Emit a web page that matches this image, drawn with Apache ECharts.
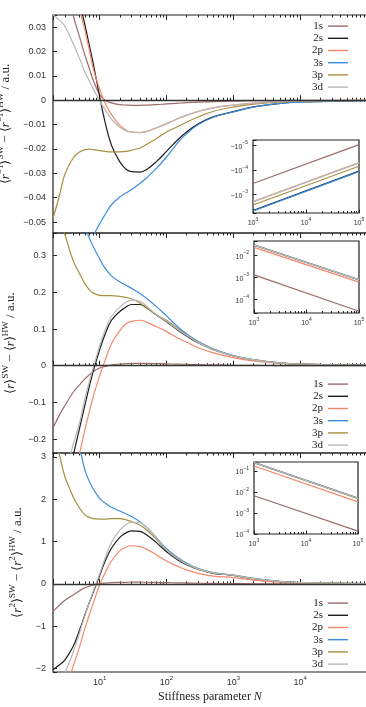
<!DOCTYPE html>
<html>
<head>
<meta charset="utf-8">
<script src="https://cdn.jsdelivr.net/npm/echarts@6/dist/echarts.min.js"></script>
<style>
  html, body { margin: 0; padding: 0; background: #fff; }
  #chart { width: 366px; height: 707px; }
</style>
</head>
<body>
<div id="chart"></div>
<script>
// stiffness parameter N (shared by all main panels)
const N = [2, 2.5, 3, 4, 5, 6, 7, 8, 10, 12, 15, 20, 25, 30, 40, 50, 70, 100, 150, 200, 300, 500, 1000, 2000, 5000, 10000, 100000];
const names = ['1s', '2s', '2p', '3s', '3p', '3d'];
const colors = ['#9c6b6b', '#1e1e1e', '#f5896b', '#3b8de0', '#a99040', '#b8b8b8'];

// panel 1: <r^-1>SW - <r^-1>HW
const r1_1s = [null, null, 0.05, 0.035, 0.026, 0.0185, 0.013, 0.0082, 0.0023, 0.0, -0.0011, -0.0018, -0.002, -0.0021, -0.0021, -0.002, -0.0018, -0.0015, -0.0012, -0.001, -0.0008, -0.0006, -0.00036, -0.0002, -0.0001, -0.00006, -0.00001];
const r1_2s = [null, null, null, null, 0.04, 0.031, 0.0225, 0.0151, 0.0014, -0.0089, -0.0185, -0.0253, -0.0284, -0.0293, -0.0295, -0.0285, -0.0253, -0.021, -0.016, -0.013, -0.0097, -0.0068, -0.0047, -0.0027, -0.0013, -0.00072, -0.00011];
const r1_2p = [null, null, null, 0.06, 0.038, 0.0288, 0.0205, 0.013, 0.0045, -0.001, -0.0059, -0.0103, -0.0123, -0.0131, -0.0133, -0.0129, -0.0114, -0.0097, -0.0075, -0.0062, -0.0046, -0.0031, -0.002, -0.00115, -0.00055, -0.00032, -0.00005];
const r1_3s = [null, null, null, null, null, null, -0.064, -0.056, -0.0507, -0.047, -0.0429, -0.0397, -0.038, -0.0366, -0.0342, -0.0319, -0.0281, -0.0233, -0.0172, -0.0137, -0.01, -0.007, -0.0048, -0.0028, -0.0013, -0.00074, -0.000115];
const r1_3p = [-0.0486, -0.039, -0.0305, -0.0237, -0.0212, -0.0203, -0.0201, -0.0203, -0.0207, -0.021, -0.0212, -0.0212, -0.021, -0.0205, -0.0196, -0.0182, -0.0158, -0.013, -0.0107, -0.009, -0.0068, -0.0046, -0.0028, -0.0016, -0.00076, -0.00045, -0.00007];
const r1_3d = [0.035, 0.0329, 0.0305, 0.0233, 0.0171, 0.0116, 0.0079, 0.0048, -0.0003, -0.0038, -0.0078, -0.0111, -0.0126, -0.0131, -0.0132, -0.0128, -0.0113, -0.0096, -0.0074, -0.0061, -0.0045, -0.0031, -0.002, -0.00115, -0.00055, -0.00032, -0.00005];

// panel 2: <r>SW - <r>HW
const r2_1s = [-0.17, -0.134, -0.109, -0.073, -0.052, -0.036, -0.025, -0.016, -0.006, -0.002, 0.002, 0.0045, 0.0058, 0.0064, 0.0064, 0.0062, 0.0058, 0.0052, 0.0043, 0.0037, 0.0029, 0.0021, 0.0013, 0.0008, 0.0004, 0.0002, 0.00003];
const r2_2s = [null, null, -0.33, -0.245, -0.17, -0.108, -0.056, -0.015, 0.044, 0.085, 0.124, 0.148, 0.161, 0.167, 0.167, 0.158, 0.139, 0.12, 0.096, 0.081, 0.062, 0.044, 0.027, 0.016, 0.0075, 0.0044, 0.00074];
const r2_2p = [null, null, null, -0.3, -0.238, -0.175, -0.125, -0.084, -0.027, 0.014, 0.06, 0.096, 0.115, 0.121, 0.124, 0.119, 0.107, 0.093, 0.075, 0.064, 0.049, 0.035, 0.022, 0.013, 0.0062, 0.0037, 0.0006];
const r2_3s = [null, null, null, null, null, 0.38, 0.348, 0.325, 0.291, 0.266, 0.245, 0.229, 0.219, 0.211, 0.197, 0.184, 0.162, 0.136, 0.105, 0.087, 0.066, 0.046, 0.028, 0.0165, 0.0078, 0.0046, 0.00077];
const r2_3p = [null, 0.40, 0.359, 0.287, 0.251, 0.224, 0.207, 0.198, 0.192, 0.191, 0.191, 0.189, 0.186, 0.182, 0.171, 0.159, 0.139, 0.124, 0.1, 0.084, 0.064, 0.045, 0.027, 0.016, 0.0076, 0.0045, 0.00076];
const r2_3d = [null, null, -0.3, -0.215, -0.155, -0.09, -0.043, -0.005, 0.055, 0.097, 0.135, 0.16, 0.174, 0.179, 0.176, 0.163, 0.14, 0.121, 0.098, 0.083, 0.063, 0.044, 0.027, 0.016, 0.0075, 0.0044, 0.00074];

// panel 3: <r^2>SW - <r^2>HW
const r3_1s = [-0.65, -0.5, -0.39, -0.26, -0.16, -0.09, -0.055, -0.024, 0.008, 0.02, 0.03, 0.035, 0.038, 0.04, 0.04, 0.038, 0.034, 0.03, 0.024, 0.02, 0.015, 0.01, 0.0066, 0.0035, 0.0015, 0.0008, 0.00014];
const r3_2s = [-2.03, -1.91, -1.8, -1.48, -1.09, -0.73, -0.44, -0.2, 0.2, 0.53, 0.84, 1.1, 1.21, 1.25, 1.24, 1.16, 0.98, 0.76, 0.56, 0.45, 0.34, 0.25, 0.2, 0.12, 0.055, 0.03, 0.005];
const r3_2p = [null, null, -2.6, -1.95, -1.48, -1.05, -0.73, -0.46, -0.02, 0.25, 0.54, 0.78, 0.87, 0.9, 0.88, 0.82, 0.69, 0.54, 0.41, 0.33, 0.25, 0.185, 0.15, 0.09, 0.04, 0.022, 0.0034];
const r3_3s = [null, null, null, null, 3.25, 2.69, 2.42, 2.24, 2.02, 1.91, 1.81, 1.72, 1.65, 1.59, 1.47, 1.34, 1.1, 0.83, 0.61, 0.49, 0.36, 0.265, 0.21, 0.13, 0.058, 0.032, 0.0052];
const r3_3p = [3.6, 3.05, 2.54, 2.06, 1.79, 1.63, 1.57, 1.54, 1.53, 1.53, 1.54, 1.54, 1.51, 1.47, 1.39, 1.28, 1.06, 0.8, 0.59, 0.47, 0.35, 0.26, 0.205, 0.125, 0.056, 0.031, 0.005];
const r3_3d = [null, -2.45, -2.12, -1.62, -1.15, -0.75, -0.44, -0.17, 0.24, 0.6, 0.98, 1.27, 1.41, 1.46, 1.45, 1.34, 1.09, 0.8, 0.59, 0.47, 0.35, 0.26, 0.205, 0.125, 0.056, 0.031, 0.005];

// insets: values at N = 1e3 and 1e5
const NI = [1000, 100000];
const i1_1s = [-3.63e-4, -9.1e-6];
const i1_2s = [-4.68e-3, -1.12e-4];
const i1_2p = [-2.0e-3, -5.0e-5];
const i1_3s = [-4.9e-3, -1.17e-4];
const i1_3p = [-2.75e-3, -7.1e-5];
const i1_3d = [-2.05e-3, -5.1e-5];

const i2_1s = [1.26e-3, 2.8e-5];
const i2_2s = [0.0282, 7.4e-4];
const i2_2p = [0.0224, 5.9e-4];
const i2_3s = [0.0295, 7.7e-4];
const i2_3p = [0.0288, 7.6e-4];
const i2_3d = [0.0284, 7.5e-4];

const i3_1s = [6.6e-3, 1.38e-4];
const i3_2s = [0.251, 4.9e-3];
const i3_2p = [0.174, 3.4e-3];
const i3_3s = [0.262, 5.1e-3];
const i3_3p = [0.255, 5.0e-3];
const i3_3d = [0.25, 4.9e-3];

const panels = [
  [r1_1s, r1_2s, r1_2p, r1_3s, r1_3p, r1_3d],
  [r2_1s, r2_2s, r2_2p, r2_3s, r2_3p, r2_3d],
  [r3_1s, r3_2s, r3_2p, r3_3s, r3_3p, r3_3d]
];
const insets = [
  [i1_1s, i1_2s, i1_2p, i1_3s, i1_3p, i1_3d],
  [i2_1s, i2_2s, i2_2p, i2_3s, i2_3p, i2_3d],
  [i3_1s, i3_2s, i3_2p, i3_3s, i3_3p, i3_3d]
];

const SANS = 'Liberation Sans';
const SERIF = 'Liberation Serif';
const INK = '#222';

const mainGrids = [
  { top: 15, height: 218 },
  { top: 233, height: 220 },
  { top: 453, height: 219 }
];
const yRange = [[-0.0545, 0.035, 9, 0.01, 2], [-0.238, 0.362, 6, 0.1, 1], [-2.08, 3.09, 5, 1, 0]];

const insetGrids = [
  { left: 253, top: 140, width: 106, height: 73 },
  { left: 254, top: 241, width: 105, height: 72 },
  { left: 254, top: 462, width: 104, height: 72 }
];
const insetY = [[Math.pow(10, -5.23), Math.pow(10, -2.23)], [Math.pow(10, -4.63), Math.pow(10, -1.36)], [1e-4, Math.pow(10, -0.57)]];

function supRich(size) {
  return {
    b: { fontSize: size, fontFamily: SANS, color: '#333', lineHeight: size + 3, verticalAlign: 'bottom' },
    s: { fontSize: Math.round(size * 0.7), fontFamily: SANS, color: '#333', lineHeight: size * 0.7, verticalAlign: 'top' }
  };
}
function powLabel(v, neg, maxExp) {
  const e = Math.log10(Math.abs(v));
  if (Math.abs(e - Math.round(e)) > 1e-6) return '';
  if (maxExp !== undefined && e > maxExp) return '';
  const k = Math.round(e);
  return '{b|' + (neg ? '−' : '') + '10}{s|' + (k < 0 ? '−' + (-k) : k) + '}';
}
function valLabel(step, dec) {
  return function (v) {
    const k = v / step;
    if (Math.abs(k - Math.round(k)) > 1e-6) return '';
    if (Math.abs(v) < 1e-12) return '0';
    return (v < 0 ? '−' : '') + Math.abs(v).toFixed(dec);
  };
}

const nameRich = {
  t: { fontFamily: SERIF, fontSize: 13, color: INK, lineHeight: 16, verticalAlign: 'bottom' },
  i: { fontFamily: SERIF, fontSize: 13, fontStyle: 'italic', color: INK, lineHeight: 16, verticalAlign: 'bottom' },
  s: { fontFamily: SERIF, fontSize: 9, color: INK, lineHeight: 8, verticalAlign: 'top' }
};
const yNames = [
  '{t|⟨}{i|r}{s|−1}{t|⟩}{s|SW}{t| − ⟨}{i|r}{s|−1}{t|⟩}{s|HW}{t| / a.u.}',
  '{t|⟨}{i|r}{t|⟩}{s|SW}{t| − ⟨}{i|r}{t|⟩}{s|HW}{t| / a.u.}',
  '{t|⟨}{i|r}{s|2}{t|⟩}{s|SW}{t| − ⟨}{i|r}{s|2}{t|⟩}{s|HW}{t| / a.u.}'
];

const grid = [];
const xAxis = [];
const yAxis = [];
const series = [];
const tickStyle = { color: INK, width: 1 };

mainGrids.forEach(function (g, p) {
  grid.push({ left: 53, right: -1, top: g.top, height: g.height, show: true, borderColor: INK, borderWidth: 1.2, backgroundColor: 'transparent', outerBoundsMode: 'none' });
  const last = p === 2;
  xAxis.push({
    gridIndex: p, type: 'log', min: 2, max: 100000, position: 'bottom',
    axisLine: { show: false }, splitLine: { show: false },
    axisTick: { show: true, inside: true, length: 5, lineStyle: tickStyle },
    minorTick: { show: true, splitNumber: 9, length: 2.5, lineStyle: tickStyle },
    axisLabel: last ? { show: true, margin: 3, rich: supRich(9), formatter: function (v) { return powLabel(v, false, 4); } } : { show: false },
    name: last ? '{t|Stiffness parameter }{i|N}' : '',
    nameLocation: 'middle', nameGap: 19,
    nameTextStyle: { rich: { t: { fontFamily: SERIF, fontSize: 12, color: INK }, i: { fontFamily: SERIF, fontSize: 12, fontStyle: 'italic', color: INK } } }
  });
  xAxis.push({
    gridIndex: p, type: 'log', min: 2, max: 100000, position: 'top',
    axisLine: { show: false }, splitLine: { show: false },
    axisTick: { show: true, inside: true, length: 5, lineStyle: tickStyle },
    minorTick: { show: true, splitNumber: 9, length: 2.5, lineStyle: tickStyle },
    axisLabel: { show: false }
  });
  const yr = yRange[p];
  yAxis.push({
    gridIndex: p, type: 'value', min: yr[0], max: yr[1], splitNumber: yr[2],
    axisLine: { show: false }, splitLine: { show: false },
    axisTick: { show: true, inside: true, length: 4, lineStyle: tickStyle },
    axisLabel: { fontFamily: SANS, fontSize: 9, color: '#333', margin: 7, formatter: valLabel(yr[3], yr[4]) },
    name: yNames[p], nameLocation: 'middle', nameRotate: 90, nameGap: 29,
    nameTextStyle: { rich: nameRich }
  });
  panels[p].forEach(function (vals, k) {
    const s = {
      name: names[k], type: 'line', xAxisIndex: 2 * p, yAxisIndex: p,
      data: N.map(function (n, i) { return [n, vals[i]]; }).filter(function (d) { return d[1] !== null; }),
      symbol: 'none', smooth: 0.4, clip: true,
      itemStyle: { color: colors[k] },
      lineStyle: { color: colors[k], width: 1.2 }
    };
    if (k === 0) {
      s.markLine = { silent: true, symbol: 'none', label: { show: false }, lineStyle: { color: '#333', width: 1.4, type: 'solid' }, data: [{ yAxis: 0 }] };
    }
    series.push(s);
  });
});

insetGrids.forEach(function (g, q) {
  const gi = 3 + q;
  grid.push({ left: g.left, top: g.top, width: g.width, height: g.height, show: true, borderColor: INK, borderWidth: 1.2, backgroundColor: '#fff', outerBoundsMode: 'none', z: 5 });
  xAxis.push({
    gridIndex: gi, type: 'log', min: 1000, max: 100000, z: 6,
    axisLine: { show: false }, splitLine: { show: false },
    axisTick: { show: true, inside: true, length: 3.5, lineStyle: tickStyle },
    minorTick: { show: true, splitNumber: 9, length: 2, lineStyle: tickStyle },
    axisLabel: { margin: 4, rich: supRich(7), formatter: function (v) { return powLabel(v, false); } }
  });
  yAxis.push({
    gridIndex: gi, type: 'log', min: insetY[q][0], max: insetY[q][1], inverse: q === 0, z: 6,
    axisLine: { show: false }, splitLine: { show: false },
    axisTick: { show: true, inside: true, length: 3.5, lineStyle: tickStyle },
    axisLabel: { margin: 5, rich: supRich(7), formatter: function (v) { return powLabel(v, q === 0); } }
  });
  insets[q].forEach(function (vals, k) {
    series.push({
      name: names[k], type: 'line', xAxisIndex: 6 + q, yAxisIndex: gi, z: 7,
      data: NI.map(function (n, i) { return [n, Math.abs(vals[i])]; }),
      symbol: 'none', clip: true,
      itemStyle: { color: colors[k] },
      lineStyle: { color: colors[k], width: 1.2 }
    });
  });
});

const legendTops = [15, 373, 592];
const legend = legendTops.map(function (t) {
  return {
    top: t, right: 13, orient: 'vertical', align: 'right', selectedMode: false,
    data: names, icon: 'rect', itemWidth: 20, itemHeight: 1.4, itemGap: 0,
    textStyle: { fontFamily: SERIF, fontSize: 11, color: INK, lineHeight: 12.2 }
  };
});

const chart = echarts.init(document.getElementById('chart'), null, { renderer: 'canvas' });
chart.setOption({
  animation: false,
  backgroundColor: '#fff',
  grid: grid,
  xAxis: xAxis,
  yAxis: yAxis,
  legend: legend,
  series: series
});
</script>
</body>
</html>
